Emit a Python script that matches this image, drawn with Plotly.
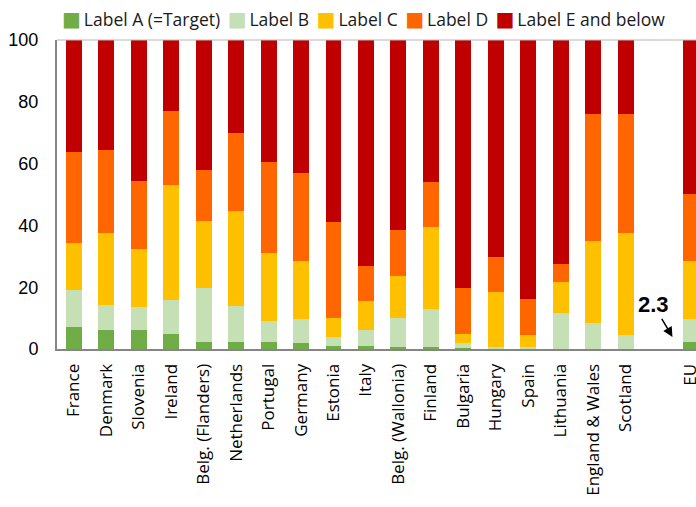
import plotly.graph_objects as go

countries = ["France", "Denmark", "Slovenia", "Ireland", "Belg. (Flanders)", "Netherlands",
             "Portugal", "Germany", "Estonia", "Italy", "Belg. (Wallonia)", "Finland",
             "Bulgaria", "Hungary", "Spain", "Lithuania", "England & Wales", "Scotland"]
eu_label = "EU"
spacer = " "

label_a = [7.2, 6.2, 6.0, 4.7, 2.4, 2.2, 2.2, 2.0, 1.1, 1.1, 0.8, 0.8, 0.3, 0.0, 0.0, 0.0, 0.0, 0.0]
label_b = [12.0, 8.0, 7.7, 11.1, 17.4, 11.8, 6.8, 7.8, 2.8, 5.1, 9.1, 12.2, 1.7, 0.6, 0.6, 11.5, 8.4, 4.5]
label_c = [15.1, 23.3, 18.7, 37.2, 21.6, 30.7, 22.0, 18.7, 6.2, 9.3, 13.7, 26.4, 2.8, 17.7, 3.9, 10.1, 26.5, 33.0]
label_d = [29.5, 27.0, 21.9, 24.0, 16.4, 25.2, 29.4, 28.3, 31.1, 11.3, 14.8, 14.5, 15.0, 11.6, 11.6, 5.8, 41.0, 38.7]
label_e = [36.2, 35.5, 45.7, 23.0, 42.2, 30.1, 39.6, 43.2, 58.8, 73.2, 61.6, 46.1, 80.2, 70.1, 83.9, 72.6, 24.1, 23.8]
eu_values = [2.3, 7.5, 18.7, 21.7, 49.8]

series_names = ["Label A (=Target)", "Label B", "Label C", "Label D", "Label E and below"]
series_colors = ["#70AD47", "#C5E0B4", "#FFC000", "#FF6600", "#C00000"]
series_values = [label_a, label_b, label_c, label_d, label_e]

y_ticks = [0, 20, 40, 60, 80, 100]

x_all = countries + [spacer, eu_label]

fig = go.Figure()
for name, color, vals, eu_v in zip(series_names, series_colors, series_values, eu_values):
    fig.add_bar(x=x_all, y=vals + [None, eu_v], name=name, marker_color=color,
                marker_line_width=0, showlegend=False)

# legend drawn as a single rich-text line
legend_text = " \u2009".join(
    f"<span style='color:{c};font-family:DejaVu Sans;font-size:20px'>■</span>\u2009{n}"
    for n, c in zip(series_names, series_colors)
)
fig.add_annotation(text=legend_text, xref="paper", yref="paper", x=0.004, y=1,
                   xanchor="left", yanchor="middle", yshift=21, showarrow=False,
                   font=dict(family="Open Sans", size=17.5, color="#1a1a1a"))

# EU target annotation
fig.add_annotation(x=eu_label, y=eu_values[0], text="<b>2.3</b>", showarrow=True,
                   xshift=-18, yshift=5, ax=-19, ay=-32, arrowhead=2, arrowsize=1.3,
                   arrowwidth=1.5, arrowcolor="black", standoff=0,
                   font=dict(family="Liberation Sans", size=22, color="black"))

fig.add_shape(type="line", xref="paper", yref="paper", x0=0, x1=1, y0=1, y1=1,
              line=dict(color="#b5b5b5", width=1))

fig.update_layout(
    width=696, height=507,
    margin=dict(l=57, r=0, t=40, b=158, autoexpand=False),
    barmode="stack", bargap=0.51,
    plot_bgcolor="white", paper_bgcolor="white",
    font=dict(family="Open Sans", color="black"),
)
fig.update_xaxes(type="category", range=[-0.52, 19.17], showline=True, linecolor="#858585",
                 linewidth=2, ticks="", tickangle=-90, ticklabelstandoff=6, automargin=False,
                 tickfont=dict(family="Open Sans", size=17, color="black"), showgrid=False)
fig.update_yaxes(range=[0, 100], tickvals=y_ticks, showline=True, linecolor="#858585",
                 linewidth=2, ticks="", showgrid=False, zeroline=False, ticklabelstandoff=13,
                 automargin=False,
                 tickfont=dict(family="Liberation Sans", size=18, color="black"))

fig.write_html("out.html", config={"displayModeBar": False},
               post_script="document.body.style.margin='0';")
